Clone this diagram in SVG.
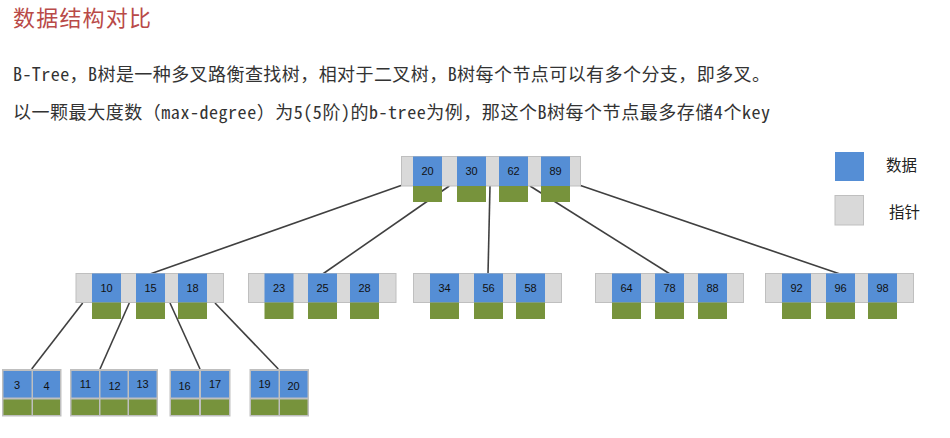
<svg xmlns="http://www.w3.org/2000/svg" width="950" height="438" viewBox="0 0 950 438">
<style>
.ptr{fill:#d9d9d9;stroke:#bfbfbf;stroke-width:1}
.dat{fill:#558ed5}
.grn{fill:#77933c}
.lbg{fill:#bfbfbf}
.num{font-family:"Liberation Sans",Arial,sans-serif;font-size:11px;fill:#111;text-anchor:middle}
.edge{stroke:#404040;stroke-width:1.6;fill:none}
.body{font-family:"Noto Sans Mono CJK SC","Noto Sans CJK SC",sans-serif;font-size:18px;fill:#333}
.leg{font-family:"Noto Sans CJK SC",sans-serif;font-size:15.5px;fill:#222}
</style>
<rect width="950" height="438" fill="#fff"/>
<g id="header">
<text x="13" y="26" font-family="'Noto Sans CJK SC',sans-serif" font-size="22" fill="#b94a48" textLength="138">数据结构对比</text>
<text class="body" x="13" y="81" textLength="757" lengthAdjust="spacing">B-Tree，B树是一种多叉路衡查找树，相对于二叉树，B树每个节点可以有多个分支，即多叉。</text>
<text class="body" x="13" y="119" textLength="757" lengthAdjust="spacing">以一颗最大度数（max-degree）为5(5阶)的b-tree为例，那这个B树每个节点最多存储4个key</text>
</g>
<g id="connectors">
<line class="edge" x1="401" y1="185.5" x2="150" y2="274"/>
<line class="edge" x1="449.3" y1="186" x2="322.7" y2="274"/>
<line class="edge" x1="490" y1="186" x2="488" y2="274"/>
<line class="edge" x1="530" y1="186" x2="670" y2="274"/>
<line class="edge" x1="580.5" y1="185.5" x2="840" y2="274"/>
<line class="edge" x1="82.7" y1="303" x2="31.7" y2="369"/>
<line class="edge" x1="129.3" y1="303" x2="100" y2="369"/>
<line class="edge" x1="170" y1="303" x2="200" y2="369"/>
<line class="edge" x1="215" y1="303" x2="278.3" y2="369"/>
</g>
<g id="root">
<rect class="ptr" x="401.5" y="156.5" width="179" height="29.5"/>
<rect class="dat" x="413" y="156.5" width="29" height="29.5"/>
<rect class="dat" x="457" y="156.5" width="29" height="29.5"/>
<rect class="dat" x="499" y="156.5" width="29" height="29.5"/>
<rect class="dat" x="541" y="156.5" width="29" height="29.5"/>
<rect class="grn" x="413" y="186" width="29" height="16"/>
<rect class="grn" x="457" y="186" width="29" height="16"/>
<rect class="grn" x="499" y="186" width="29" height="16"/>
<rect class="grn" x="541" y="186" width="29" height="16"/>
<text class="num" x="427.5" y="175">20</text>
<text class="num" x="471.5" y="175">30</text>
<text class="num" x="513.5" y="175">62</text>
<text class="num" x="555.5" y="175">89</text>
</g>
<g id="n1">
<rect class="ptr" x="76" y="273.5" width="147.5" height="29"/>
<rect class="dat" x="92" y="273.5" width="29" height="29"/>
<rect class="dat" x="136" y="273.5" width="29" height="29"/>
<rect class="dat" x="178" y="273.5" width="29" height="29"/>
<rect class="grn" x="92" y="302.5" width="29" height="16.5"/>
<rect class="grn" x="136" y="302.5" width="29" height="16.5"/>
<rect class="grn" x="178" y="302.5" width="29" height="16.5"/>
<text class="num" x="106.5" y="292">10</text>
<text class="num" x="150.5" y="292">15</text>
<text class="num" x="192.5" y="292">18</text>
</g>
<g id="n2">
<rect class="ptr" x="248.5" y="273.5" width="147.5" height="29"/>
<rect class="dat" x="264.5" y="273.5" width="29" height="29"/>
<rect class="dat" x="308" y="273.5" width="29" height="29"/>
<rect class="dat" x="350" y="273.5" width="29" height="29"/>
<rect class="grn" x="264.5" y="302.5" width="29" height="16.5"/>
<rect class="grn" x="308" y="302.5" width="29" height="16.5"/>
<rect class="grn" x="350" y="302.5" width="29" height="16.5"/>
<text class="num" x="279" y="292">23</text>
<text class="num" x="322.5" y="292">25</text>
<text class="num" x="364.5" y="292">28</text>
</g>
<g id="n3">
<rect class="ptr" x="413.5" y="273.5" width="148" height="29"/>
<rect class="dat" x="430" y="273.5" width="29" height="29"/>
<rect class="dat" x="474" y="273.5" width="29" height="29"/>
<rect class="dat" x="516" y="273.5" width="29" height="29"/>
<rect class="grn" x="430" y="302.5" width="29" height="16.5"/>
<rect class="grn" x="474" y="302.5" width="29" height="16.5"/>
<rect class="grn" x="516" y="302.5" width="29" height="16.5"/>
<text class="num" x="444.5" y="292">34</text>
<text class="num" x="488.5" y="292">56</text>
<text class="num" x="530.5" y="292">58</text>
</g>
<g id="n4">
<rect class="ptr" x="595.5" y="273.5" width="148" height="29"/>
<rect class="dat" x="612" y="273.5" width="29" height="29"/>
<rect class="dat" x="655" y="273.5" width="29" height="29"/>
<rect class="dat" x="698" y="273.5" width="29" height="29"/>
<rect class="grn" x="612" y="302.5" width="29" height="16.5"/>
<rect class="grn" x="655" y="302.5" width="29" height="16.5"/>
<rect class="grn" x="698" y="302.5" width="29" height="16.5"/>
<text class="num" x="626.5" y="292">64</text>
<text class="num" x="669.5" y="292">78</text>
<text class="num" x="712.5" y="292">88</text>
</g>
<g id="n5">
<rect class="ptr" x="765.5" y="273.5" width="148" height="29"/>
<rect class="dat" x="782" y="273.5" width="29" height="29"/>
<rect class="dat" x="826" y="273.5" width="29" height="29"/>
<rect class="dat" x="868" y="273.5" width="29" height="29"/>
<rect class="grn" x="782" y="302.5" width="29" height="16.5"/>
<rect class="grn" x="826" y="302.5" width="29" height="16.5"/>
<rect class="grn" x="868" y="302.5" width="29" height="16.5"/>
<text class="num" x="796.5" y="292">92</text>
<text class="num" x="840.5" y="292">96</text>
<text class="num" x="882.5" y="292">98</text>
</g>
<g id="leaf1">
<rect class="lbg" x="2" y="369" width="59.5" height="47.5"/>
<rect class="dat" x="3.5" y="371" width="28" height="26.5"/>
<rect class="dat" x="33" y="371" width="27" height="26.5"/>
<rect class="grn" x="3.5" y="399.5" width="28" height="15.5"/>
<rect class="grn" x="33" y="399.5" width="27" height="15.5"/>
<text class="num" x="17" y="389">3</text>
<text class="num" x="46.5" y="390">4</text>
</g>
<g id="leaf2">
<rect class="lbg" x="70" y="369" width="88" height="47.5"/>
<rect class="dat" x="71.5" y="371" width="27.5" height="26.5"/>
<rect class="dat" x="100.5" y="371" width="27" height="26.5"/>
<rect class="dat" x="129" y="371" width="27.5" height="26.5"/>
<rect class="grn" x="71.5" y="399.5" width="27.5" height="15.5"/>
<rect class="grn" x="100.5" y="399.5" width="27" height="15.5"/>
<rect class="grn" x="129" y="399.5" width="27.5" height="15.5"/>
<text class="num" x="85.5" y="388">11</text>
<text class="num" x="114.5" y="390">12</text>
<text class="num" x="142.5" y="388">13</text>
</g>
<g id="leaf3">
<rect class="lbg" x="169.5" y="369" width="61" height="47.5"/>
<rect class="dat" x="171" y="371" width="28" height="26.5"/>
<rect class="dat" x="201" y="371" width="28" height="26.5"/>
<rect class="grn" x="171" y="399.5" width="28" height="15.5"/>
<rect class="grn" x="201" y="399.5" width="28" height="15.5"/>
<text class="num" x="184.5" y="390">16</text>
<text class="num" x="215" y="388">17</text>
</g>
<g id="leaf4">
<rect class="lbg" x="249.5" y="369" width="59.5" height="47.5"/>
<rect class="dat" x="251" y="371" width="27.5" height="26.5"/>
<rect class="dat" x="280" y="371" width="27.5" height="26.5"/>
<rect class="grn" x="251" y="399.5" width="27.5" height="15.5"/>
<rect class="grn" x="280" y="399.5" width="27.5" height="15.5"/>
<text class="num" x="264.5" y="388">19</text>
<text class="num" x="293.5" y="390">20</text>
</g>
<g id="legend">
<rect class="dat" x="835" y="152" width="29" height="29"/>
<rect class="ptr" x="835" y="195.5" width="28.5" height="29.5"/>
<text class="leg" x="886" y="171">数据</text>
<text class="leg" x="889" y="218">指针</text>
</g>
</svg>
